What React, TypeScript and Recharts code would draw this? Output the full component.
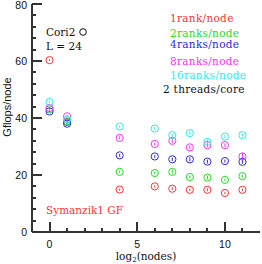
import { ScatterChart, Scatter, XAxis, YAxis, ErrorBar } from 'recharts';

// log2(nodes) positions
const NODES_LOG2 = [0, 1, 4, 6, 7, 8, 9, 10, 11];

// Gflops/node per ranks-per-node setting
const RANK1 = [60.3, 38.6, 14.9, 16.0, 15.2, 14.8, 14.8, 13.7, 14.8];
const RANK2 = [43.0, 38.8, 21.1, 20.7, 21.1, 19.3, 19.1, 18.3, 19.6];
const RANK4 = [42.3, 38.0, 26.9, 26.5, 25.5, 25.5, 24.7, 24.9, 24.6];
const RANK8 = [43.5, 40.6, 33.0, 30.9, 32.0, 29.7, 30.5, 30.5, 26.5];
const RANK16 = [45.6, 39.5, 37.0, 36.3, 34.0, 34.7, 31.6, 33.5, 34.0];

// error bars (half widths)
const ERR1 = [0.3, 0.4, 0.4, 0.4, 0.5, 0.4, 0.5, 0.4, 0.4];
const ERR2 = [0.3, 0.4, 0.5, 0.5, 0.6, 0.5, 0.7, 0.4, 0.5];
const ERR4 = [0.3, 0.4, 0.5, 0.5, 0.6, 0.7, 0.7, 0.5, 0.7];
const ERR8 = [0.3, 0.4, 0.6, 0.5, 0.8, 0.6, 0.7, 0.6, 1.3];
const ERR16 = [0.3, 0.4, 0.4, 0.5, 0.6, 0.6, 0.8, 0.5, 0.5];

const X_TICKS = [0, 1, 2, 3, 4, 5, 6, 7, 8, 9, 10, 11];
const X_LABELS = [0, 5, 10];
const Y_TICKS = [0, 4, 8, 12, 16, 20, 24, 28, 32, 36, 40, 44, 48, 52, 56, 60, 64, 68, 72, 76, 80];
const Y_LABELS = [0, 20, 40, 60, 80];

const SERIES = [
    { name: '1rank/node', values: RANK1, errs: ERR1, color: '#ff3333' },
    { name: '2ranks/node', values: RANK2, errs: ERR2, color: '#22dd22' },
    { name: '4ranks/node', values: RANK4, errs: ERR4, color: '#2a2aee' },
    { name: '8ranks/node', values: RANK8, errs: ERR8, color: '#ff30ff' },
    { name: '16ranks/node', values: RANK16, errs: ERR16, color: '#22f0f0' },
];

const AXIS = '#333';
const TICK_W = 2;
const TEXT = '#111';
const SANS = '"Liberation Sans", Arial, sans-serif';
const SERIF = '"DejaVu Serif", "Liberation Serif", serif';

const toPoints = (values: number[], errs: number[]) =>
    NODES_LOG2.map((x, i) => ({ x, y: values[i], err: errs[i] }));

const Ring = (props: any) => {
    const { cx, cy, fill } = props;
    if (cx == null || cy == null) return null;
    return <circle cx={cx} cy={cy} r={3.6} fill="none" stroke={fill} strokeWidth={1} />;
};

const BottomTick = (props: any) => {
    const { x, y, payload } = props;
    const major = X_LABELS.includes(payload.value);
    const px = Math.round(x);
    return (
        <g>
            <line x1={px} y1={y} x2={px} y2={y - (major ? 10 : 4)} stroke={AXIS} strokeWidth={TICK_W} />
            {major && (
                <text x={x} y={y + 16} textAnchor="middle" fontFamily={SANS} fontSize={10.5} fill={TEXT}>
                    {payload.value}
                </text>
            )}
        </g>
    );
};

const TopTick = (props: any) => {
    const { x, y, payload } = props;
    const major = X_LABELS.includes(payload.value);
    const px = Math.round(x);
    return <line x1={px} y1={y} x2={px} y2={y + (major ? 10 : 4)} stroke={AXIS} strokeWidth={TICK_W} />;
};

const LeftTick = (props: any) => {
    const { x, y, payload } = props;
    const major = Y_LABELS.includes(payload.value);
    const py = Math.round(y);
    return (
        <g>
            <line x1={x} y1={py} x2={x + (major ? 10 : 4)} y2={py} stroke={AXIS} strokeWidth={TICK_W} />
            {major && (
                <text
                    x={x - 5}
                    y={y + (payload.value === 80 ? 5 : 3.5)}
                    textAnchor="end"
                    fontFamily={SANS}
                    fontSize={10.5}
                    fill={TEXT}
                >
                    {payload.value}
                </text>
            )}
        </g>
    );
};

const RightTick = (props: any) => {
    const { x, y, payload } = props;
    const major = Y_LABELS.includes(payload.value);
    const py = Math.round(y);
    return <line x1={x} y1={py} x2={x - (major ? 10 : 4)} y2={py} stroke={AXIS} strokeWidth={TICK_W} />;
};

export default function App() {
    return (
        <div style={{ position: 'absolute', left: 0, top: 0, width: 262, height: 264, background: '#fff' }}>
            <ScatterChart width={262} height={264} margin={{ top: 4, right: 2, bottom: 0, left: 0 }}>
                <XAxis
                    xAxisId="b"
                    dataKey="x"
                    type="number"
                    domain={[-1, 12]}
                    ticks={X_TICKS}
                    interval={0}
                    height={32}
                    tickSize={0}
                    tickMargin={0}
                    tickLine={false}
                    tick={<BottomTick />}
                    axisLine={{ stroke: AXIS, strokeWidth: 2 }}
                />
                <XAxis
                    xAxisId="t"
                    orientation="top"
                    type="number"
                    domain={[-1, 12]}
                    ticks={X_TICKS}
                    interval={0}
                    height={0}
                    tickSize={0}
                    tickMargin={0}
                    tickLine={false}
                    tick={<TopTick />}
                    axisLine={{ stroke: AXIS, strokeWidth: 2 }}
                />
                <YAxis
                    yAxisId="l"
                    dataKey="y"
                    type="number"
                    domain={[0, 80]}
                    ticks={Y_TICKS}
                    interval={0}
                    width={32}
                    tickSize={0}
                    tickMargin={0}
                    tickLine={false}
                    tick={<LeftTick />}
                    axisLine={{ stroke: AXIS, strokeWidth: 2 }}
                />
                <YAxis
                    yAxisId="r"
                    orientation="right"
                    type="number"
                    domain={[0, 80]}
                    ticks={Y_TICKS}
                    interval={0}
                    width={0}
                    tickSize={0}
                    tickMargin={0}
                    tickLine={false}
                    tick={<RightTick />}
                    axisLine={{ stroke: AXIS, strokeWidth: 2 }}
                />
                {SERIES.map((s) => (
                    <Scatter
                        key={s.name}
                        name={s.name}
                        xAxisId="b"
                        yAxisId="l"
                        data={toPoints(s.values, s.errs)}
                        fill={s.color}
                        shape={<Ring />}
                        isAnimationActive={false}
                    >
                        <ErrorBar dataKey="err" direction="y" width={0} stroke={s.color} strokeWidth={1} isAnimationActive={false} />
                    </Scatter>
                ))}
                <g>
                    <text
                        transform="translate(10.5,107) rotate(-90)"
                        textAnchor="middle"
                        fontFamily={SANS}
                        fontSize={11}
                        fill={TEXT}
                    >
                        Gflops/node
                    </text>
                    <text x={146} y={259.5} textAnchor="middle" fontFamily={SERIF} fontSize={10.5} fill={TEXT}>
                        log<tspan fontSize={7} dy={2.5}>2</tspan>
                        <tspan dy={-2.5}>(nodes)</tspan>
                    </text>
                    <text x={46} y={36} fontFamily={SERIF} fontSize={10.5} fill={TEXT}>
                        Cori2
                    </text>
                    <circle cx={83} cy={32} r={3.3} fill="none" stroke={TEXT} strokeWidth={1} />
                    <text x={46} y={49.5} fontFamily={SERIF} fontSize={10.5} fill={TEXT}>
                        L = 24
                    </text>
                    {SERIES.map((s, i) => (
                        <text
                            key={s.name}
                            x={170}
                            y={[22, 36.5, 47.5, 65, 79][i]}
                            fontFamily={SERIF}
                            fontSize={10.5}
                            fill={s.color}
                            letterSpacing={0.3}
                        >
                            {s.name}
                        </text>
                    ))}
                    <text x={163} y={93} fontFamily={SERIF} fontSize={10.5} fill={TEXT} letterSpacing={0.3}>
                        2 threads/core
                    </text>
                    <text x={46} y={214} fontFamily={SERIF} fontSize={10.5} fill="#ff3333">
                        Symanzik1 GF
                    </text>
                </g>
            </ScatterChart>
        </div>
    );
}
